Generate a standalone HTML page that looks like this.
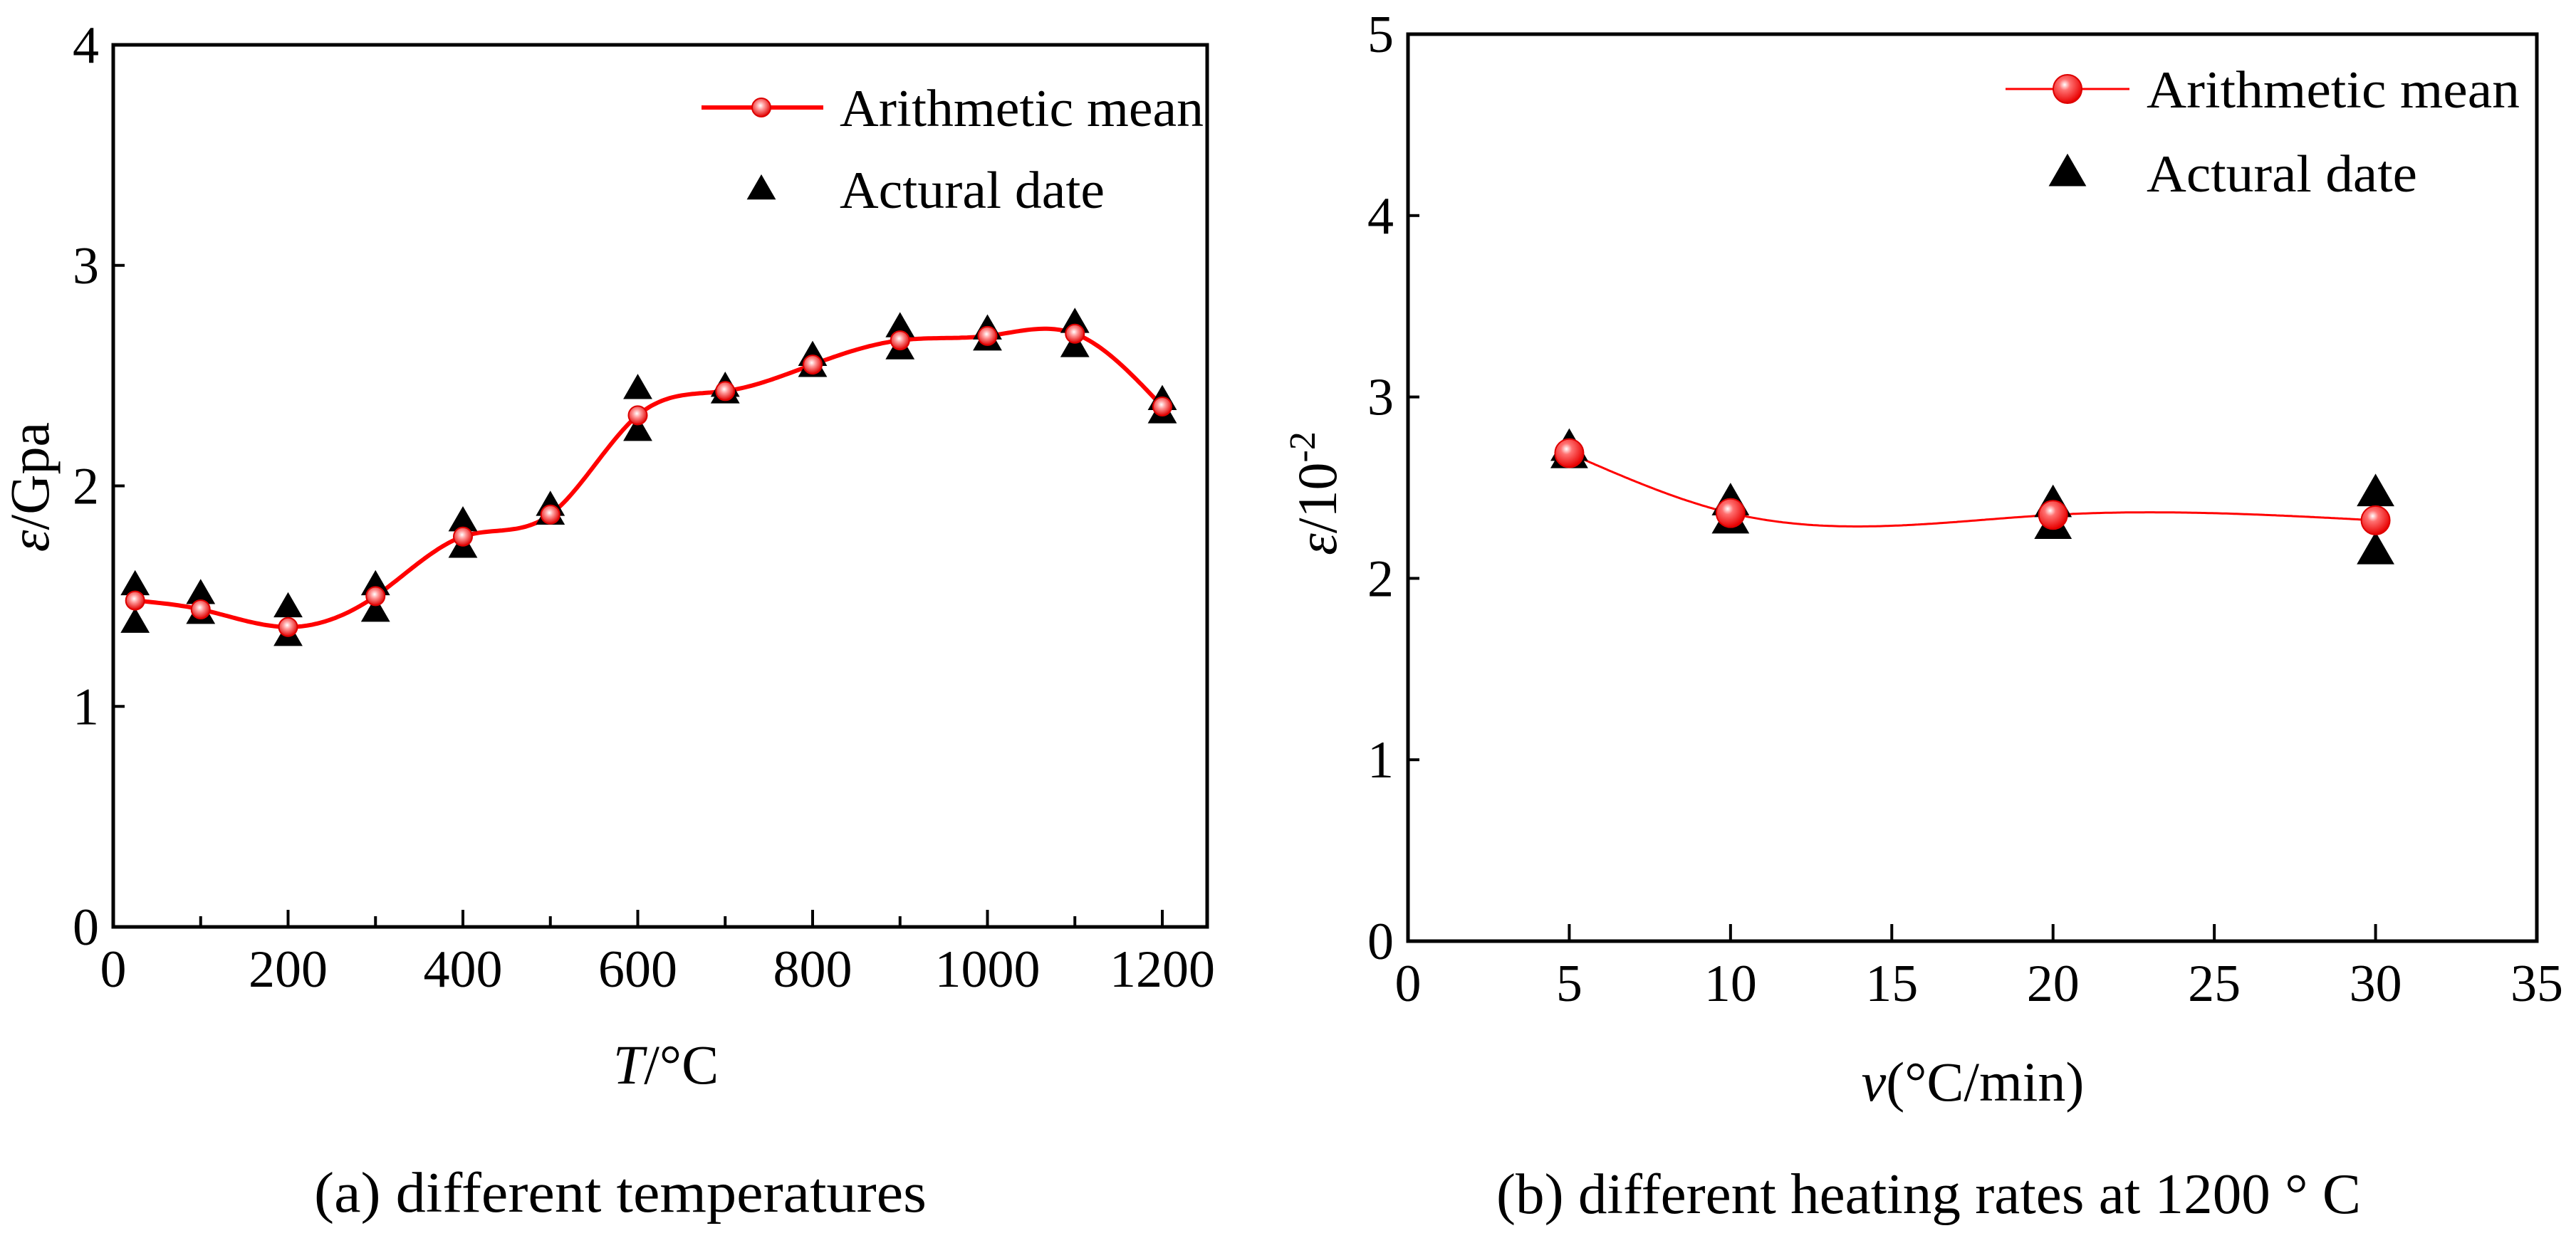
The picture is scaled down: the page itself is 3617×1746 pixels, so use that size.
<!DOCTYPE html>
<html><head><meta charset="utf-8"><style>
html,body{margin:0;padding:0;background:#fff}
svg{display:block}
text{font-family:"Liberation Serif",serif;fill:#000}
</style></head><body>
<svg id="fig" width="3617" height="1746" viewBox="0 0 3617 1746" xmlns="http://www.w3.org/2000/svg">
<defs>
<radialGradient id="ballL" cx="0.45" cy="0.4" r="0.6"><stop offset="0" stop-color="#fff"/><stop offset="0.35" stop-color="#ff9a9a"/><stop offset="1" stop-color="#e00000"/></radialGradient>
<radialGradient id="ballR" cx="0.4" cy="0.35" r="0.65"><stop offset="0" stop-color="#fff"/><stop offset="0.3" stop-color="#ff7070"/><stop offset="1" stop-color="#e80000"/></radialGradient>
</defs>
<g id="chartA"></g>
<g id="chartB"></g>
<text x="871" y="1702" font-size="80" text-anchor="middle" textLength="860" lengthAdjust="spacingAndGlyphs">(a) different temperatures</text>
<text x="2708" y="1704" font-size="80" text-anchor="middle" textLength="1214" lengthAdjust="spacingAndGlyphs">(b) different heating rates at 1200 ° C</text>
</svg>
<script>
// Chart A data
const tempX = [25,100,200,300,400,500,600,700,800,900,1000,1100,1200];
const tempMean = [1.48,1.44,1.36,1.50,1.77,1.87,2.32,2.43,2.55,2.66,2.68,2.69,2.36];
const tempActualHigh = [1.55,1.51,1.45,1.55,1.84,1.91,2.44,2.45,2.59,2.72,2.71,2.74,2.39];
const tempActualLow = [1.38,1.42,1.32,1.43,1.72,1.87,2.25,2.42,2.54,2.62,2.66,2.63,2.33];
const tempXTicks = [0,200,400,600,800,1000,1200];
const tempYTicks = [0,1,2,3,4];
// Chart B data
const rateX = [5,10,20,30];
const rateMean = [2.69,2.36,2.35,2.32];
const rateActualHigh = [2.72,2.42,2.41,2.47];
const rateActualLow = [2.68,2.32,2.29,2.15];
const rateXTicks = [0,5,10,15,20,25,30,35];
const rateYTicks = [0,1,2,3,4,5];

const NS='http://www.w3.org/2000/svg';
function mk(parent,tag,attrs,txt){const e=document.createElementNS(NS,tag);for(const k in attrs)e.setAttribute(k,attrs[k]);if(txt!==undefined)e.textContent=txt;parent.appendChild(e);return e;}

function spline(xs,ys){
  const n=xs.length,h=[],a=[],l=[1],mu=[0],z=[0],c=new Array(n).fill(0),b=[],d=[];
  for(let i=0;i<n-1;i++)h.push(xs[i+1]-xs[i]);
  for(let i=1;i<n-1;i++)a[i]=3/h[i]*(ys[i+1]-ys[i])-3/h[i-1]*(ys[i]-ys[i-1]);
  for(let i=1;i<n-1;i++){l[i]=2*(xs[i+1]-xs[i-1])-h[i-1]*mu[i-1];mu[i]=h[i]/l[i];z[i]=(a[i]-h[i-1]*z[i-1])/l[i];}
  for(let j=n-2;j>=0;j--){c[j]=(j<n-1&&j>0?z[j]:0)-mu[j]*c[j+1];if(j===0)c[0]=0;b[j]=(ys[j+1]-ys[j])/h[j]-h[j]*(c[j+1]+2*c[j])/3;d[j]=(c[j+1]-c[j])/(3*h[j]);}
  return x=>{let i=0;while(i<n-2&&x>xs[i+1])i++;const dx=x-xs[i];return ys[i]+b[i]*dx+c[i]*dx*dx+d[i]*dx*dx*dx;};
}
function tri(g,cx,cy,s,name){
  const p=mk(g,'polygon',{points:`${cx},${cy-s*0.62} ${cx-s*0.6},${cy+s*0.42} ${cx+s*0.6},${cy+s*0.42}`,fill:'#000'});
  
  
}

function drawChart(o){
  const g=document.getElementById(o.id);
  const sx=v=>o.L+(v-o.xmin)/(o.xmax-o.xmin)*(o.R0-o.L);
  const sy=v=>o.B-(v-o.ymin)/(o.ymax-o.ymin)*(o.B-o.T);
  // curve
  const f=spline(o.xs,o.mean);let d='';
  for(let x=o.xs[0];x<=o.xs[o.xs.length-1]+0.001;x+=(o.xs[o.xs.length-1]-o.xs[0])/400){d+=(d?'L':'M')+sx(x).toFixed(1)+','+sy(f(x)).toFixed(1);}
  const cv=mk(g,'path',{d:d,fill:'none',stroke:'#f00','stroke-width':o.lw});
  
  
  o.xs.forEach((x,i)=>{
    tri(g,sx(x),sy(o.hi[i]),o.ts,'actual-point-high');
    tri(g,sx(x),sy(o.lo[i]),o.ts,'actual-point-low');
  });
  o.xs.forEach((x,i)=>{
    const c=mk(g,'circle',{cx:sx(x),cy:sy(o.mean[i]),r:o.mr,fill:o.grad,stroke:'#d00','stroke-width':2});
    
    
  });
  // axes frame
  const fr=mk(g,'rect',{x:o.L,y:o.T,width:o.R-o.L,height:o.B-o.T,fill:'none',stroke:'#000','stroke-width':5});
  
  
  // x ticks
  o.xMinor.forEach(v=>{mk(g,'line',{x1:sx(v),x2:sx(v),y1:o.B,y2:o.B-15,stroke:'#000','stroke-width':4});});
  o.xticks.forEach(v=>{
    mk(g,'line',{x1:sx(v),x2:sx(v),y1:o.B,y2:o.B-o.xtl,stroke:'#000','stroke-width':4});
    const t=mk(g,'text',{x:sx(v),y:o.B+84,'font-size':74,'text-anchor':'middle'},String(v));
    
    
  });
  o.yticks.forEach(v=>{
    mk(g,'line',{x1:o.L,x2:o.L+16,y1:sy(v),y2:sy(v),stroke:'#000','stroke-width':4});
    const t=mk(g,'text',{x:o.L-20,y:sy(v)+25,'font-size':74,'text-anchor':'end'},String(v));
    
    
  });
  // legend
  const lg=mk(g,'g',{});
  
  
  mk(lg,'line',{x1:o.lg.x1,x2:o.lg.x2,y1:o.lg.y1,y2:o.lg.y1,stroke:'#f00','stroke-width':o.lw});
  mk(lg,'circle',{cx:o.lg.mx,cy:o.lg.y1,r:o.mr,fill:o.grad,stroke:'#d00','stroke-width':2});
  mk(lg,'text',{x:o.lg.tx,y:o.lg.y1+26,'font-size':74,textLength:o.lg.w1,lengthAdjust:'spacingAndGlyphs'},'Arithmetic mean');
  tri(lg,o.lg.mx,o.lg.y2,o.ts,'legend-triangle');
  mk(lg,'text',{x:o.lg.tx,y:o.lg.y2+26,'font-size':74,textLength:o.lg.w2,lengthAdjust:'spacingAndGlyphs'},'Actural date');
  // titles
  const xt=mk(g,'text',{x:o.xtx,y:o.xty,'font-size':78,'text-anchor':'middle'});
  
  
  xt.innerHTML=o.xtitle;
  const yt=mk(g,'text',{x:0,y:0,'font-size':78,'text-anchor':'middle',transform:`translate(${o.ytx},${o.yty}) rotate(-90)`});
  
  
  yt.innerHTML=o.ytitle;
}

drawChart({id:'chartA',L:159,R:1695,R0:1632,T:63,B:1302,xmin:0,xmax:1200,ymin:0,ymax:4,
  xs:tempX,mean:tempMean,hi:tempActualHigh,lo:tempActualLow,xticks:tempXTicks,yticks:tempYTicks,
  xMinor:[100,300,500,700,900,1100],xtl:24,lw:6,mr:13,ts:34,grad:'url(#ballL)',
  lg:{x1:985,x2:1156,y1:151,y2:266,mx:1069,tx:1179,w1:511,w2:372},
  xtx:935,xty:1522,xtitle:'<tspan font-style="italic">T</tspan>/°C',
  ytx:68,yty:684,ytitle:'<tspan font-style="italic">ε</tspan>/Gpa'});
drawChart({id:'chartB',L:1977,R:3562,R0:3562,T:48,B:1322,xmin:0,xmax:35,ymin:0,ymax:5,
  xs:rateX,mean:rateMean,hi:rateActualHigh,lo:rateActualLow,xticks:rateXTicks,yticks:rateYTicks,
  xMinor:[],xtl:24,lw:3,mr:20,ts:44,grad:'url(#ballR)',
  lg:{x1:2816,x2:2990,y1:125,y2:243,mx:2903,tx:3014,w1:524,w2:380},
  xtx:2770,xty:1546,xtitle:'<tspan font-style="italic">v</tspan>(°C/min)',
  ytx:1876,yty:693,ytitle:'<tspan font-style="italic">ε</tspan>/10<tspan font-size="52" dy="-30">-2</tspan>'});
</script>
</body></html>
